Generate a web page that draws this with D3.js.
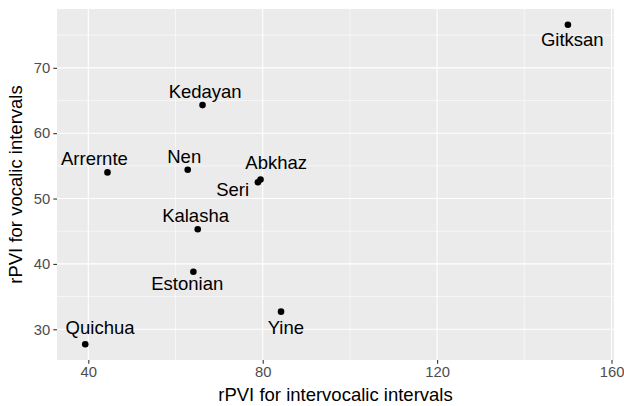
<!DOCTYPE html>
<html>
<head>
<meta charset="utf-8">
<script src="https://cdn.jsdelivr.net/npm/d3@7"></script>
<style>
  body { margin: 0; background: #fff; }
  text { font-family: "Liberation Sans", Arial, Helvetica, sans-serif; }
</style>
</head>
<body>
<script>
// languages and their rPVI values
var languages = ["Gitksan", "Kedayan", "Arrernte", "Nen", "Abkhaz", "Seri", "Kalasha", "Estonian", "Yine", "Quichua"];
var intervocalic = [150.0, 66.2, 44.4, 62.8, 79.5, 78.9, 65.1, 64.1, 84.2, 39.3];
var vocalic = [76.6, 64.3, 54.0, 54.4, 52.9, 52.5, 45.3, 38.8, 32.7, 27.7];

// repelled label anchors (data units, text baseline)
var labelX = [151.0, 66.8, 41.4, 62.0, 83.1, 73.1, 64.6, 62.7, 85.3, 42.7];
var labelY = [73.4, 65.4, 55.1, 55.4, 54.5, 50.4, 46.4, 36.0, 29.3, 29.3];

var xMajor = [40, 80, 120, 160];
var xMinor = [60, 100, 140];
var yMajor = [30, 40, 50, 60, 70];
var yMinor = [35, 45, 55, 65, 75];

var width = 624, height = 406;
var margin = {top: 9, right: 10, bottom: 46, left: 57};
var pw = width - margin.left - margin.right,
    ph = height - margin.top - margin.bottom;

var x = d3.scaleLinear().domain([32.82, 160.57]).range([0, pw]);
var y = d3.scaleLinear().domain([25.3, 79.0]).range([ph, 0]);

var svg = d3.select("body").append("svg")
    .attr("width", width)
    .attr("height", height);

var g = svg.append("g")
    .attr("transform", "translate(" + margin.left + "," + margin.top + ")");

// panel
g.append("rect")
  .attr("width", pw)
  .attr("height", ph)
  .attr("fill", "#EBEBEB");

// minor grid
g.selectAll("line.xminor").data(xMinor).enter().append("line")
  .attr("x1", x).attr("x2", x).attr("y1", 0).attr("y2", ph)
  .attr("stroke", "#fff").attr("stroke-width", 0.55);
g.selectAll("line.yminor").data(yMinor).enter().append("line")
  .attr("y1", y).attr("y2", y).attr("x1", 0).attr("x2", pw)
  .attr("stroke", "#fff").attr("stroke-width", 0.55);

// major grid
g.selectAll("line.xmajor").data(xMajor).enter().append("line")
  .attr("x1", x).attr("x2", x).attr("y1", 0).attr("y2", ph)
  .attr("stroke", "#fff").attr("stroke-width", 1.1);
g.selectAll("line.ymajor").data(yMajor).enter().append("line")
  .attr("y1", y).attr("y2", y).attr("x1", 0).attr("x2", pw)
  .attr("stroke", "#fff").attr("stroke-width", 1.1);

// axes
var xAxis = g.append("g")
    .attr("transform", "translate(0," + ph + ")")
    .call(d3.axisBottom(x).tickValues(xMajor).tickSize(3.7).tickPadding(3));
var yAxis = g.append("g")
    .call(d3.axisLeft(y).tickValues(yMajor).tickSize(3.7).tickPadding(3));

[xAxis, yAxis].forEach(function(a) {
  a.select(".domain").remove();
  a.selectAll(".tick line").attr("stroke", "#333333").attr("stroke-width", 1.1);
  a.selectAll(".tick text")
    .attr("fill", "#4D4D4D")
    .style("font-size", "14.8px")
    .style("font-family", "'Liberation Sans', Arial, sans-serif");
});

// points
g.selectAll("circle.pt").data(languages).enter().append("circle")
  .attr("cx", function(d, i) { return x(intervocalic[i]); })
  .attr("cy", function(d, i) { return y(vocalic[i]); })
  .attr("r", 3.3)
  .attr("fill", "#000");

// labels
g.selectAll("text.lab").data(languages).enter().append("text")
  .attr("x", function(d, i) { return x(labelX[i]); })
  .attr("y", function(d, i) { return y(labelY[i]); })
  .attr("text-anchor", "middle")
  .style("font-size", "18.5px")
  .attr("fill", "#000")
  .text(function(d) { return d; });

// axis titles
svg.append("text")
  .attr("x", margin.left + pw / 2)
  .attr("y", 401)
  .attr("text-anchor", "middle")
  .style("font-size", "18.5px")
  .text("rPVI for intervocalic intervals");

svg.append("text")
  .attr("transform", "translate(22," + (margin.top + ph / 2) + ") rotate(-90)")
  .attr("text-anchor", "middle")
  .style("font-size", "18.5px")
  .text("rPVI for vocalic intervals");
</script>
</body>
</html>
